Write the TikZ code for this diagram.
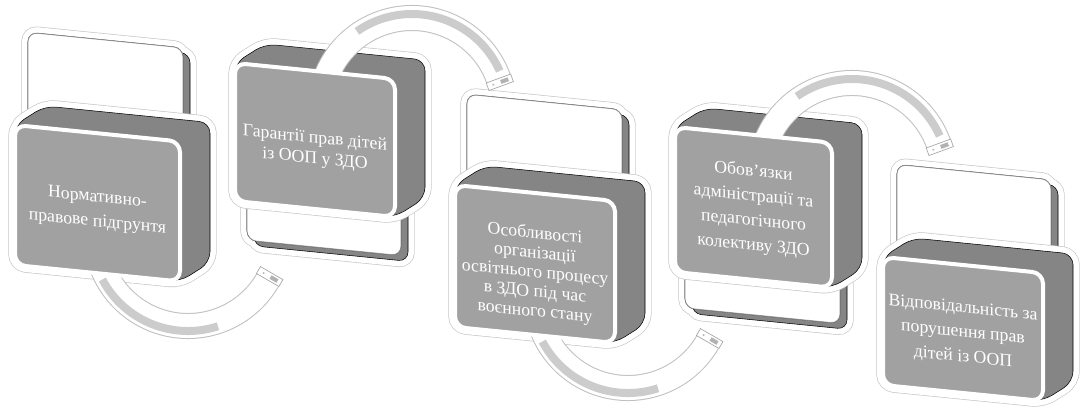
\documentclass[tikz,border=0pt]{standalone}
\usepackage{fontspec}
\setmainfont{Liberation Serif}
\pgfdeclarelayer{background}
\pgfdeclarelayer{cardlayer}
\pgfdeclarelayer{boxlayer}
\pgfdeclarelayer{edgelayer}
\pgfdeclarelayer{nodelayer}
\pgfsetlayers{background,cardlayer,boxlayer,edgelayer,nodelayer,main}
\tikzstyle{glow}=[preaction={draw=black!22, line width=10pt}, preaction={draw=white, line width=9pt}]
\tikzstyle{back card}=[glow, fill=black!48, rounded corners=7pt]
\tikzstyle{card face}=[fill=white, draw=black!45, line width=0.6pt, rounded corners=7pt]
\tikzstyle{box side}=[glow, fill=black!48, rounded corners=8pt]
\tikzstyle{box face}=[fill=black!37, draw=white, line width=3pt, rounded corners=8pt]
\tikzstyle{box text}=[text=white, align=center, font=\fontsize{13.3}{18.5}\selectfont, transform shape]
\tikzstyle{ribbon}=[draw=black!25, line width=19.5pt, postaction={draw=white, line width=18pt}]
\tikzstyle{ribbon shade}=[draw=black!20, line width=6pt]
\tikzstyle{ribbon end}=[fill=white, draw=black!35, line width=0.5pt]

\begin{document}
\begin{tikzpicture}[x=0.75pt, y=0.75pt]
	\useasboundingbox (0,0) rectangle (1085,-419);
	\begin{pgfonlayer}{background}
		\fill [white] (0,0) rectangle (1085,-419);
	\end{pgfonlayer}
	% step 1
	\begin{scope}[shift={(15,-125)}, yslant=-0.1]
		\begin{pgfonlayer}{cardlayer}
			\draw [style=back card] (13,94) rectangle (168,-40) (20,89) rectangle (175,-45);
			\draw [style=card face] (13,94) rectangle (168,-40);
		\end{pgfonlayer}
		\begin{pgfonlayer}{boxlayer}
			\draw [style=box side] (0,-140) -- (0,0) -- (30,22) -- (195,22) -- (195,-118) -- (165,-140) -- cycle;
		\end{pgfonlayer}
		\begin{pgfonlayer}{nodelayer}
			\draw [style=box face] (0,0) rectangle (165,-140);
			\node [style=box text] (0) at (82.5,-77) {Нормативно-\\правове підгрунтя};
		\end{pgfonlayer}
	\end{scope}
	% step 2
	\begin{scope}[shift={(235,-63)}, yslant=-0.1]
		\begin{pgfonlayer}{cardlayer}
			\draw [style=back card] (12,-40) rectangle (166,-176) (19,-45) rectangle (173,-181);
			\draw [style=card face] (12,-40) rectangle (166,-176);
		\end{pgfonlayer}
		\begin{pgfonlayer}{boxlayer}
			\draw [style=box side] (0,-138) -- (0,0) -- (30,22) -- (190,22) -- (190,-116) -- (160,-138) -- cycle;
		\end{pgfonlayer}
		\begin{pgfonlayer}{nodelayer}
			\draw [style=box face] (0,0) rectangle (160,-138);
			\node [style=box text, font=\fontsize{13.3}{15.5}\selectfont] (1) at (80,-78) {Гарантії прав дітей\\із ООП у ЗДО};
		\end{pgfonlayer}
	\end{scope}
	% step 3
	\begin{scope}[shift={(455,-185)}, yslant=-0.1]
		\begin{pgfonlayer}{cardlayer}
			\draw [style=back card] (12,92) rectangle (167,-40) (19,87) rectangle (174,-45);
			\draw [style=card face] (12,92) rectangle (167,-40);
		\end{pgfonlayer}
		\begin{pgfonlayer}{boxlayer}
			\draw [style=box side] (0,-142) -- (0,0) -- (30,22) -- (190,22) -- (190,-120) -- (160,-142) -- cycle;
		\end{pgfonlayer}
		\begin{pgfonlayer}{nodelayer}
			\draw [style=box face] (0,0) rectangle (160,-142);
			\node [style=box text, font=\fontsize{13.3}{14.6}\selectfont] (2) at (80,-80) {Особливості\\організації\\освітнього процесу\\в ЗДО під час\\воєнного стану};
		\end{pgfonlayer}
	\end{scope}
	% step 4
	\begin{scope}[shift={(675,-127)}, yslant=-0.1]
		\begin{pgfonlayer}{cardlayer}
			\draw [style=back card] (10,-40) rectangle (165,-180) (17,-45) rectangle (172,-185);
			\draw [style=card face] (10,-40) rectangle (165,-180);
		\end{pgfonlayer}
		\begin{pgfonlayer}{boxlayer}
			\draw [style=box side] (0,-145) -- (0,0) -- (30,22) -- (187,22) -- (187,-123) -- (157,-145) -- cycle;
		\end{pgfonlayer}
		\begin{pgfonlayer}{nodelayer}
			\draw [style=box face] (0,0) rectangle (157,-145);
			\node [style=box text] (3) at (78.5,-74) {Обов’язки\\адміністрації та\\педагогічного\\колективу ЗДО};
		\end{pgfonlayer}
	\end{scope}
	% step 5
	\begin{scope}[shift={(883,-257)}, yslant=-0.1]
		\begin{pgfonlayer}{cardlayer}
			\draw [style=back card] (14,94) rectangle (168,-30) (21,89) rectangle (175,-35);
			\draw [style=card face] (14,94) rectangle (168,-30);
		\end{pgfonlayer}
		\begin{pgfonlayer}{boxlayer}
			\draw [style=box side] (0,-128) -- (0,0) -- (30,22) -- (190,22) -- (190,-106) -- (160,-128) -- cycle;
		\end{pgfonlayer}
		\begin{pgfonlayer}{nodelayer}
			\draw [style=box face] (0,0) rectangle (160,-128);
			\node [style=box text] (4) at (80,-68) {Відповідальність за\\порушення прав\\дітей із ООП};
		\end{pgfonlayer}
	\end{scope}
	% curved arrows
	\begin{pgfonlayer}{edgelayer}
		\coordinate (5) at (188,-234);
		\coordinate (6) at (412,-110);
		\coordinate (7) at (628,-296);
		\coordinate (8) at (852,-175);
		\draw [style=ribbon] (5) ++(195:92) arc [start angle=195, end angle=330, radius=92];
		\draw [style=ribbon shade] (5) ++(208:97) arc [start angle=208, end angle=288, radius=97];
		\draw [style=ribbon] (6) ++(160:92) arc [start angle=160, end angle=20, radius=92];
		\draw [style=ribbon shade] (6) ++(125:96) arc [start angle=125, end angle=24, radius=96];
		\draw [style=ribbon] (7) ++(195:92) arc [start angle=195, end angle=330, radius=92];
		\draw [style=ribbon shade] (7) ++(208:97) arc [start angle=208, end angle=288, radius=97];
		\draw [style=ribbon] (8) ++(160:92) arc [start angle=160, end angle=20, radius=92];
		\draw [style=ribbon shade] (8) ++(125:96) arc [start angle=125, end angle=24, radius=96];
		\begin{scope}[shift={(5)}, rotate=330]
			\draw [style=ribbon end] (79,0) rectangle (105,8);
			\fill [black!30] (93,2) rectangle (101,6);
			\fill [black!30] (85,4) circle (0.8pt);
		\end{scope}
		\begin{scope}[shift={(6)}, rotate=20]
			\draw [style=ribbon end] (79,0) rectangle (105,-8);
			\fill [black!30] (93,-2) rectangle (101,-6);
			\fill [black!30] (85,-4) circle (0.8pt);
		\end{scope}
		\begin{scope}[shift={(7)}, rotate=330]
			\draw [style=ribbon end] (79,0) rectangle (105,8);
			\fill [black!30] (93,2) rectangle (101,6);
			\fill [black!30] (85,4) circle (0.8pt);
		\end{scope}
		\begin{scope}[shift={(8)}, rotate=20]
			\draw [style=ribbon end] (79,0) rectangle (105,-8);
			\fill [black!30] (93,-2) rectangle (101,-6);
			\fill [black!30] (85,-4) circle (0.8pt);
		\end{scope}
	\end{pgfonlayer}
\end{tikzpicture}
\end{document}
